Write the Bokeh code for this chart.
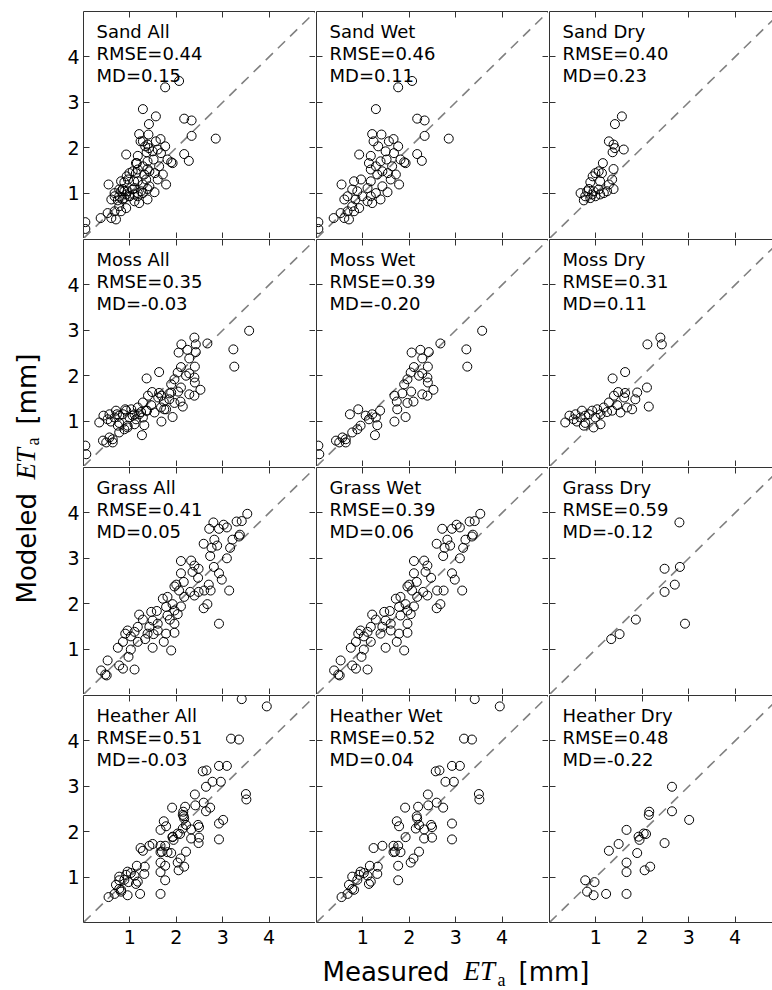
import math
from bokeh.plotting import figure
from bokeh.layouts import gridplot, row, column
from bokeh.models import Range1d, FixedTicker, LinearAxis, Label
from bokeh.core.properties import value
from bokeh.embed import file_html
from bokeh.resources import INLINE

# ---------------- data ----------------
sand_wet_x = [1.76, 2.06, 1.28, 2.17, 2.33, 2.33, 2.85, 2.17, 2.27, 1.20, 1.40, 1.66, 1.56, 1.23, 1.33, 1.76,
              1.49, 1.67, 0.92, 1.17, 1.81, 1.92, 1.89, 1.38, 1.51, 1.13, 1.28, 1.63, 1.17, 1.42, 1.54, 1.31,
              1.71, 1.60, 0.96, 0.81, 1.17, 0.54, 1.78, 1.42, 0.77, 1.10, 0.88, 1.53, 1.28, 0.67, 0.99, 1.17,
              0.60, 0.84, 1.10, 1.38, 1.20, 0.77, 0.92, 0.67, 0.81, 0.52, 0.60, 0.70, 0.37, 0.04, 0.04]
sand_wet_y = [3.33, 3.47, 2.85, 2.64, 2.60, 2.26, 2.20, 1.86, 1.71, 2.30, 2.29, 2.19, 2.14, 2.14, 2.03, 2.03,
              1.92, 1.88, 1.85, 1.82, 1.74, 1.66, 1.68, 1.70, 1.74, 1.66, 1.59, 1.59, 1.52, 1.48, 1.44, 1.41,
              1.41, 1.30, 1.30, 1.26, 1.26, 1.19, 1.19, 1.15, 1.08, 1.11, 1.04, 1.02, 1.00, 0.93, 0.93, 0.93,
              0.86, 0.86, 0.82, 0.86, 0.78, 0.71, 0.67, 0.60, 0.60, 0.56, 0.45, 0.42, 0.45, 0.36, 0.21]
sand_dry_x = [1.56, 1.41, 1.28, 1.38, 1.41, 1.36, 1.60, 1.15, 1.38, 1.06, 0.99, 1.13, 0.93, 1.35, 0.88, 1.09,
              1.28, 1.38, 0.85, 0.95, 1.06, 1.17, 1.24, 0.67, 0.77, 0.88, 0.99, 0.74, 0.92, 1.09, 0.81]
sand_dry_y = [2.69, 2.52, 2.14, 2.07, 1.99, 1.90, 1.96, 1.66, 1.53, 1.48, 1.44, 1.44, 1.37, 1.30, 1.24, 1.26,
              1.19, 1.09, 1.09, 1.04, 1.08, 1.00, 1.04, 1.00, 0.93, 0.89, 0.93, 0.84, 0.97, 0.97, 1.04]

moss_wet_x = [3.57, 3.23, 3.25, 2.67, 2.05, 2.24, 2.42, 2.28, 2.10, 2.40, 2.03, 2.28, 2.39, 2.21, 1.96, 2.40,
              1.89, 2.52, 2.04, 1.85, 2.28, 2.39, 1.68, 1.73, 2.09, 1.96, 1.74, 1.92, 1.68, 0.72, 0.90, 1.06,
              1.20, 1.37, 1.28, 1.13, 1.31, 0.95, 0.88, 0.77, 1.26, 0.56, 0.63, 0.42, 0.49, 0.63, 0.04, 0.06]
moss_wet_y = [2.99, 2.58, 2.20, 2.71, 2.51, 2.57, 2.52, 2.38, 2.19, 2.20, 2.07, 2.05, 1.96, 2.00, 1.92, 1.85,
              1.81, 1.69, 1.65, 1.61, 1.59, 1.56, 1.56, 1.43, 1.43, 1.40, 1.26, 1.09, 0.99, 1.15, 1.26, 1.12,
              1.15, 1.23, 1.08, 1.04, 0.91, 0.90, 0.82, 0.75, 0.69, 0.64, 0.60, 0.57, 0.53, 0.53, 0.46, 0.27]
moss_dry_x = [2.39, 2.11, 2.42, 1.63, 1.36, 2.10, 1.89, 1.48, 1.63, 1.39, 1.85, 2.14, 1.61, 1.28, 1.46, 1.67,
              1.78, 1.17, 1.03, 0.92, 0.70, 1.35, 1.53, 0.85, 0.56, 1.10, 1.24, 0.43, 0.67, 0.77, 0.99, 0.52,
              0.34, 0.59, 0.77, 1.10, 0.95, 0.74]
moss_dry_y = [2.84, 2.69, 2.69, 2.08, 1.94, 1.74, 1.63, 1.64, 1.62, 1.56, 1.48, 1.32, 1.52, 1.41, 1.35, 1.30,
              1.26, 1.30, 1.26, 1.23, 1.23, 1.23, 1.19, 1.15, 1.15, 1.15, 1.20, 1.12, 1.08, 1.12, 1.08, 1.04,
              0.97, 0.99, 0.96, 0.93, 0.86, 0.90]

grass_wet_x = [3.53, 3.30, 3.41, 3.02, 3.09, 2.92, 2.71, 3.37, 3.35, 3.21, 2.82, 2.59, 2.88, 2.76, 3.16, 2.73,
               3.09, 2.10, 2.32, 2.39, 2.35, 2.10, 2.92, 2.47, 2.98, 2.16, 2.00, 1.96, 2.06, 2.60, 2.74, 3.14,
               2.30, 2.39, 2.17, 1.81, 1.71, 1.92, 2.10, 2.67, 2.59, 1.78, 1.96, 1.46, 1.58, 1.81, 1.20, 2.03,
               1.49, 1.28, 1.60, 1.96, 1.17, 1.42, 0.95, 1.10, 1.60, 1.78, 1.96, 1.38, 0.90, 1.02, 1.17, 0.85,
               1.73, 0.74, 1.02, 1.49, 1.89, 0.97, 0.52, 0.77, 0.85, 1.10, 0.38, 0.47, 0.50]
grass_wet_y = [3.98, 3.81, 3.82, 3.74, 3.68, 3.65, 3.65, 3.52, 3.48, 3.41, 3.41, 3.32, 3.28, 3.23, 3.23, 3.05,
               3.00, 2.94, 2.95, 2.84, 2.70, 2.67, 2.67, 2.57, 2.53, 2.48, 2.42, 2.38, 2.29, 2.29, 2.29, 2.29,
               2.26, 2.18, 2.15, 2.15, 2.11, 1.99, 1.94, 1.99, 1.90, 1.93, 1.85, 1.82, 1.84, 1.74, 1.76, 1.77,
               1.63, 1.65, 1.56, 1.56, 1.49, 1.49, 1.41, 1.38, 1.41, 1.34, 1.36, 1.34, 1.34, 1.28, 1.16, 1.16,
               1.16, 1.03, 0.99, 1.03, 0.97, 0.83, 0.75, 0.64, 0.57, 0.55, 0.53, 0.44, 0.42]
grass_dry_x = [2.80, 2.48, 2.81, 2.70, 2.48, 1.86, 2.92, 1.51, 1.33]
grass_dry_y = [3.79, 2.77, 2.81, 2.42, 2.26, 1.65, 1.56, 1.33, 1.22]

heather_wet_x = [3.41, 3.95, 3.18, 3.35, 2.92, 3.09, 2.57, 2.65, 2.78, 2.96, 3.50, 3.51, 2.40, 2.41, 2.59, 2.73,
                 1.91, 2.19, 2.16, 2.17, 1.73, 1.78, 2.21, 2.14, 2.47, 2.49, 2.32, 2.92, 2.92, 2.49, 2.32, 1.92,
                 1.23, 1.42, 1.66, 1.76, 1.69, 1.81, 2.21, 1.66, 2.09, 2.03, 1.76, 1.15, 1.32, 1.31, 1.76, 0.95,
                 1.02, 0.92, 1.10, 0.77, 0.88, 1.17, 1.13, 0.70, 0.77, 0.81, 0.67, 0.54]
heather_wet_y = [4.92, 4.76, 4.05, 4.03, 3.45, 3.45, 3.33, 3.35, 3.10, 3.10, 2.83, 2.71, 2.82, 2.58, 2.64, 2.53,
                 2.53, 2.55, 2.34, 2.29, 2.23, 2.12, 2.15, 2.07, 2.15, 2.10, 2.05, 2.18, 1.83, 1.87, 1.85, 1.88,
                 1.64, 1.69, 1.69, 1.69, 1.56, 1.55, 1.56, 1.55, 1.41, 1.32, 1.25, 1.25, 1.23, 1.07, 0.93, 1.12,
                 1.09, 1.05, 1.03, 1.01, 0.94, 0.90, 0.85, 0.83, 0.74, 0.72, 0.63, 0.56]
heather_dry_x = [2.64, 2.64, 3.01, 2.15, 2.14, 1.66, 2.03, 2.08, 1.92, 1.94, 1.49, 2.48, 1.28, 1.89, 1.66, 2.17,
                 2.05, 1.66, 0.77, 0.97, 0.81, 1.22, 0.95, 1.66]
heather_dry_y = [2.99, 2.45, 2.26, 2.44, 2.37, 2.04, 1.96, 1.95, 1.89, 1.82, 1.73, 1.75, 1.58, 1.53, 1.32, 1.23,
                 1.15, 1.11, 0.93, 0.89, 0.68, 0.63, 0.60, 0.63]

surfaces = ["Sand", "Moss", "Grass", "Heather"]
conditions = ["All", "Wet", "Dry"]
rmse_values = [[0.44, 0.46, 0.40], [0.35, 0.39, 0.31], [0.41, 0.39, 0.59], [0.51, 0.52, 0.48]]
md_values = [[0.15, 0.11, 0.23], [-0.03, -0.20, 0.11], [0.05, 0.06, -0.12], [-0.03, 0.04, -0.22]]
tick_values = [1, 2, 3, 4]
one_to_one = [0, 5]

wet_dry = {
    "Sand": ((sand_wet_x, sand_wet_y), (sand_dry_x, sand_dry_y)),
    "Moss": ((moss_wet_x, moss_wet_y), (moss_dry_x, moss_dry_y)),
    "Grass": ((grass_wet_x, grass_wet_y), (grass_dry_x, grass_dry_y)),
    "Heather": ((heather_wet_x, heather_wet_y), (heather_dry_x, heather_dry_y)),
}

# ---------------- layout constants ----------------
PX = 46.4          # pixels per data unit horizontally
PY = 45.4          # pixels per data unit vertically
FH = 227           # frame height
SPINE = "#333333"
FONT = "DejaVu Sans"
BOTTOM = 30        # bottom border of last row (tick labels)
XLAB_H = 38        # height of the x-title strip


def add_axis(p, side, labels, line, standoff=0):
    ax = LinearAxis(ticker=FixedTicker(ticks=tick_values, minor_ticks=[]))
    ax.major_tick_in = 6
    ax.major_tick_out = 0
    ax.minor_tick_in = 0
    ax.minor_tick_out = 0
    ax.major_tick_line_color = SPINE
    ax.major_tick_line_width = 1
    ax.axis_line_color = SPINE if line else None
    ax.axis_line_width = 1
    if labels:
        ax.major_label_text_font = FONT
        ax.major_label_text_font_size = "19px"
        ax.major_label_text_color = "black"
        ax.major_label_standoff = standoff
    else:
        ax.major_label_text_font_size = "0px"
        ax.major_label_text_color = None
        ax.major_label_standoff = 0
    p.add_layout(ax, side)


# text anchor offsets (pixels below the frame top) for the three annotation lines
ANN_PX = [19.5, 41.5, 63.5]


def make_panel(r, c):
    surf = surfaces[r]
    cond = conditions[c]
    (wx, wy), (dx, dy) = wet_dry[surf]
    if cond == "All":
        xs, ys = wx + dx, wy + dy
    elif cond == "Wet":
        xs, ys = wx, wy
    else:
        xs, ys = dx, dy
    fw = 232 if c < 2 else 223
    x_end = fw / PX
    p = figure(frame_width=fw, frame_height=FH,
               x_range=Range1d(0, x_end), y_range=Range1d(0, 5),
               x_axis_location=None, y_axis_location=None,
               toolbar_location=None, output_backend="svg",
               min_border=0,
               min_border_left=39 if c == 0 else 1,
               min_border_top=11 if r == 0 else 1,
               min_border_bottom=BOTTOM if r == 3 else 0,
               min_border_right=0,
               outline_line_color=None)
    p.xgrid.visible = False
    p.ygrid.visible = False

    add_axis(p, "left", labels=(c == 0), line=True, standoff=4)
    add_axis(p, "above", labels=False, line=True)
    add_axis(p, "below", labels=(r == 3), line=(r == 3), standoff=7)
    if c < 2:
        add_axis(p, "right", labels=False, line=False)

    p.line(one_to_one, one_to_one, line_color="#808080", line_width=1.6, line_dash="10 7")
    p.scatter(xs, ys, marker="circle", size=9, fill_color=None,
              line_color="black", line_width=1)

    rm = rmse_values[r][c]
    md = md_values[r][c]
    p.text(x=[13 / PX] * 3, y=[5 - a / PY for a in ANN_PX],
           text=[f"{surf} {cond}", f"RMSE={rm:.2f}", f"MD={md:.2f}"],
           text_font=value(FONT), text_font_size="18px",
           text_baseline="alphabetic", text_align="left", text_color="black")
    return p


panels = [[make_panel(r, c) for c in range(3)] for r in range(4)]
grid = gridplot(panels, toolbar_location=None)


def blank(width, height):
    f = figure(width=width, height=height, x_range=Range1d(0, width), y_range=Range1d(0, height),
               x_axis_location=None, y_axis_location=None, toolbar_location=None,
               output_backend="svg", min_border=0, outline_line_color=None)
    f.xgrid.visible = False
    f.ygrid.visible = False
    return f


def piece(f, x, y, text, font, size, style="normal", angle=0.0):
    f.add_layout(Label(x=x, y=y, text=text, angle=angle, text_font=font, text_font_size=size,
                       text_font_style=style, text_color="black", text_baseline="alphabetic",
                       text_align="left"))


# ---------------- axis titles ----------------
ylab = blank(44, 990)
y0 = 990 - 603
rot = math.pi / 2
piece(ylab, 26, y0, "Modeled", FONT, "26px", angle=rot)
piece(ylab, 25.5, y0 + 124, "ET", "Liberation Serif", "27px", style="italic", angle=rot)
piece(ylab, 32.5, y0 + 158, "a", "Liberation Serif", "18px", angle=rot)
piece(ylab, 26, y0 + 179, "[mm]", FONT, "26px", angle=rot)

xlab = blank(728, XLAB_H)
x0 = 322 - 44
piece(xlab, x0, 19, "Measured", FONT, "26px")
piece(xlab, x0 + 141, 19.5, "ET", "Liberation Serif", "27px", style="italic")
piece(xlab, x0 + 175, 10.5, "a", "Liberation Serif", "18px")
piece(xlab, x0 + 196, 19, "[mm]", FONT, "26px")

layout = row(ylab, column(grid, xlab))

open("out.html", "w").write(file_html(layout, INLINE))
